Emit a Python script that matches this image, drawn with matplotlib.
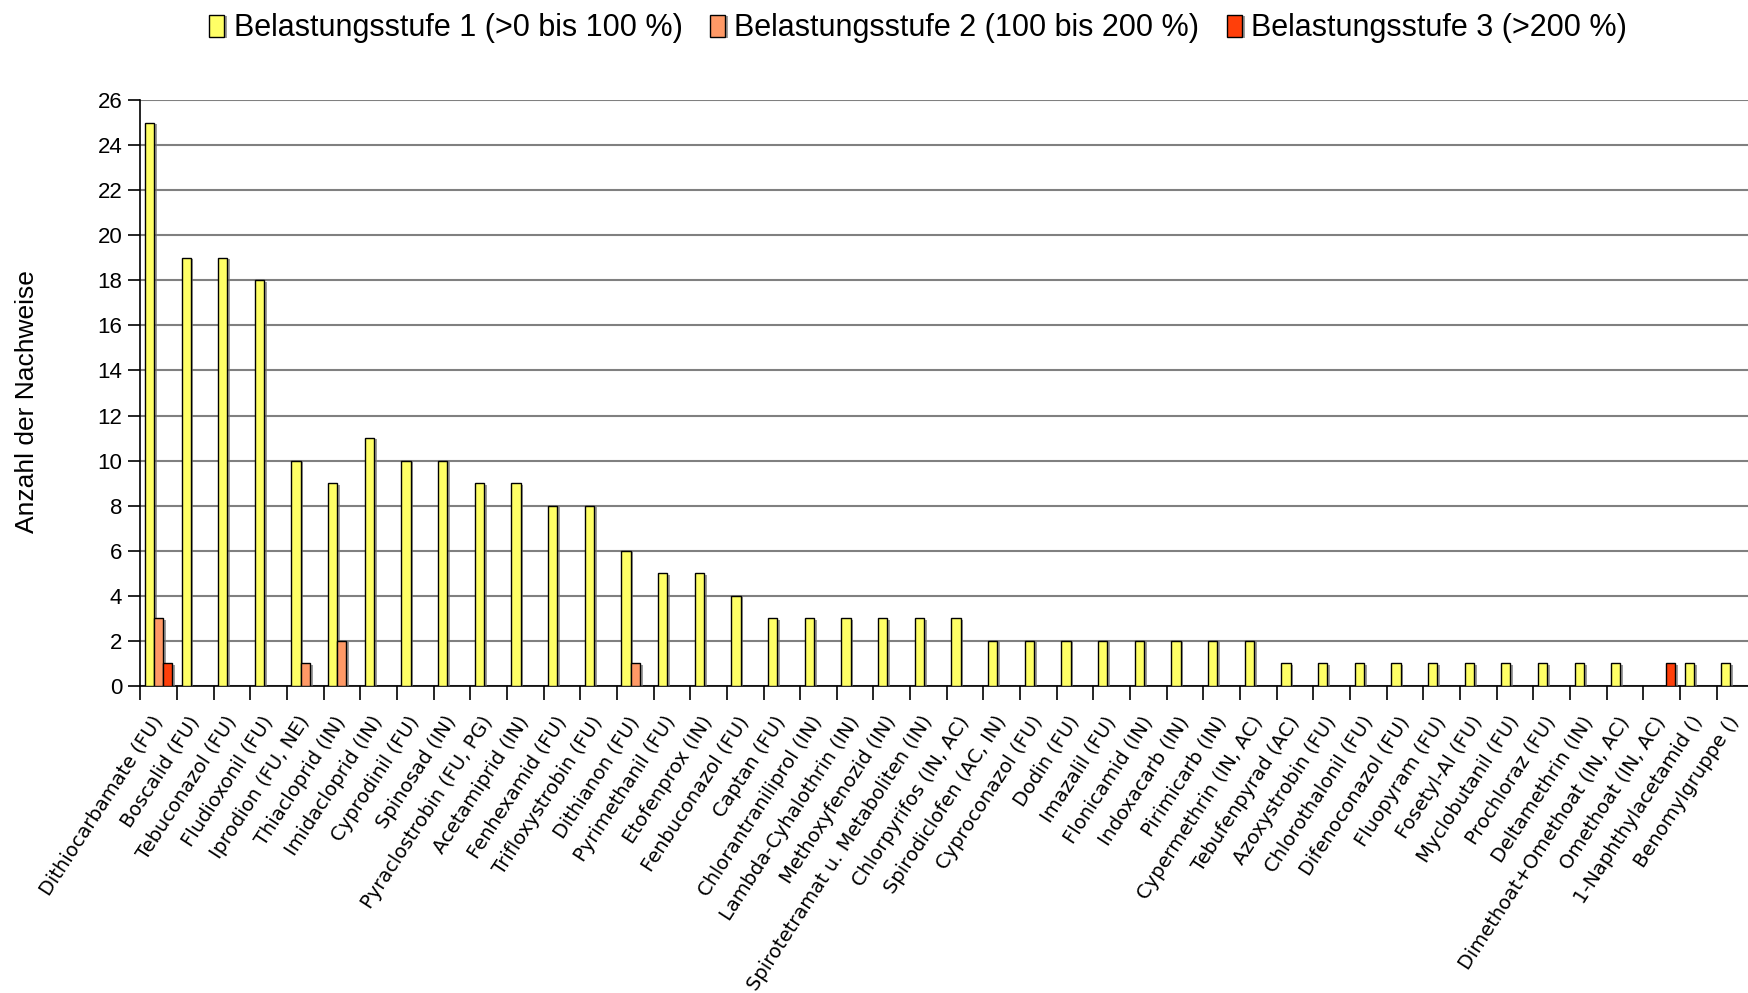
"""
Belastungsstufen der Wirkstoff-Nachweise als gruppiertes Balkendiagramm
"""

import numpy as np
import matplotlib.pyplot as plt
import matplotlib.patheffects as pe

# ================================
# Data
# ================================
WIRKSTOFFE = [
    'Dithiocarbamate (FU)', 'Boscalid (FU)', 'Tebuconazol (FU)', 'Fludioxonil (FU)',
    'Iprodion (FU, NE)', 'Thiacloprid (IN)', 'Imidacloprid (IN)', 'Cyprodinil (FU)',
    'Spinosad (IN)', 'Pyraclostrobin (FU, PG)', 'Acetamiprid (IN)', 'Fenhexamid (FU)',
    'Trifloxystrobin (FU)', 'Dithianon (FU)', 'Pyrimethanil (FU)', 'Etofenprox (IN)',
    'Fenbuconazol (FU)', 'Captan (FU)', 'Chlorantraniliprol (IN)', 'Lambda-Cyhalothrin (IN)',
    'Methoxyfenozid (IN)', 'Spirotetramat u. Metaboliten (IN)', 'Chlorpyrifos (IN, AC)',
    'Spirodiclofen (AC, IN)', 'Cyproconazol (FU)', 'Dodin (FU)', 'Imazalil (FU)',
    'Flonicamid (IN)', 'Indoxacarb (IN)', 'Pirimicarb (IN)', 'Cypermethrin (IN, AC)',
    'Tebufenpyrad (AC)', 'Azoxystrobin (FU)', 'Chlorothalonil (FU)', 'Difenoconazol (FU)',
    'Fluopyram (FU)', 'Fosetyl-Al (FU)', 'Myclobutanil (FU)', 'Prochloraz (FU)',
    'Deltamethrin (IN)', 'Dimethoat+Omethoat (IN, AC)', 'Omethoat (IN, AC)',
    '1-Naphthylacetamid ()', 'Benomylgruppe ()',
]

stufe1 = [25, 19, 19, 18, 10, 9, 11, 10, 10, 9, 9, 8, 8, 6, 5, 5, 4, 3, 3, 3, 3, 3, 3,
          2, 2, 2, 2, 2, 2, 2, 2, 1, 1, 1, 1, 1, 1, 1, 1, 1, 1, 0, 1, 1]
stufe2 = [3, 0, 0, 0, 1, 2, 0, 0, 0, 0, 0, 0, 0, 1, 0, 0, 0, 0, 0, 0, 0, 0, 0,
          0, 0, 0, 0, 0, 0, 0, 0, 0, 0, 0, 0, 0, 0, 0, 0, 0, 0, 0, 0, 0]
stufe3 = [1, 0, 0, 0, 0, 0, 0, 0, 0, 0, 0, 0, 0, 0, 0, 0, 0, 0, 0, 0, 0, 0, 0,
          0, 0, 0, 0, 0, 0, 0, 0, 0, 0, 0, 0, 0, 0, 0, 0, 0, 0, 1, 0, 0]

SERIES_LABELS = [
    'Belastungsstufe 1 (>0 bis 100 %)',
    'Belastungsstufe 2 (100 bis 200 %)',
    'Belastungsstufe 3 (>200 %)',
]
COLORS = ['#FFFF66', '#FF9966', '#FF3F0A']

# ================================
# Figure
# ================================
plt.rcParams['font.family'] = ['Liberation Sans', 'DejaVu Sans']

fig = plt.figure(figsize=(17.49, 9.93), dpi=100)
ax = fig.add_axes([0.0802, 0.3092, 0.9223, 0.5901])

x = np.arange(len(WIRKSTOFFE))
bar_w = 0.25
shadow = [pe.SimplePatchShadow(offset=(2, -1), shadow_rgbFace='0.45', alpha=0.7), pe.Normal()]

for k, (vals, lab, col) in enumerate(zip([stufe1, stufe2, stufe3], SERIES_LABELS, COLORS)):
    vals = np.array(vals)
    mask = vals > 0
    bars = ax.bar(x[mask] + (k - 1) * bar_w, vals[mask], width=bar_w, color=col,
                  edgecolor='black', linewidth=1.0, label=lab, zorder=3)
    for b in bars:
        b.set_path_effects(shadow)

ax.set_xlim(-0.5, len(WIRKSTOFFE) - 0.5)
ax.set_ylim(0, 26)
ax.set_yticks(np.arange(0, 27, 2))
ax.tick_params(axis='y', labelsize=16, length=9, width=1.2, pad=4)
ax.yaxis.grid(True, color='#808080', linewidth=1.5, zorder=0)
ax.set_axisbelow(True)

# category labels at group centres, tick marks at group boundaries
ax.set_xticks(x)
ax.set_xticklabels(WIRKSTOFFE, rotation=57, ha='right', va='center',
                   rotation_mode='anchor', fontsize=14, family='DejaVu Sans')
ax.tick_params(axis='x', which='major', length=0, pad=23)
ax.set_xticks(np.arange(-0.5, len(WIRKSTOFFE), 1), minor=True)
ax.tick_params(axis='x', which='minor', length=10, width=1.2)

for side in ['top', 'right']:
    ax.spines[side].set_visible(False)
ax.spines['left'].set_linewidth(1.2)
ax.spines['bottom'].set_linewidth(1.2)

fig.text(27 / 1749, 1 - 402 / 993, 'Anzahl der Nachweise', rotation=90,
         ha='center', va='center', fontsize=19)

fig.legend(loc='upper center', bbox_to_anchor=(0.525, 1.005), ncol=3, frameon=False,
           fontsize=22, handlelength=0.5, handleheight=0.75, handletextpad=0.3,
           columnspacing=0.9, borderaxespad=0.2)

plt.savefig('out.png', dpi=100)
